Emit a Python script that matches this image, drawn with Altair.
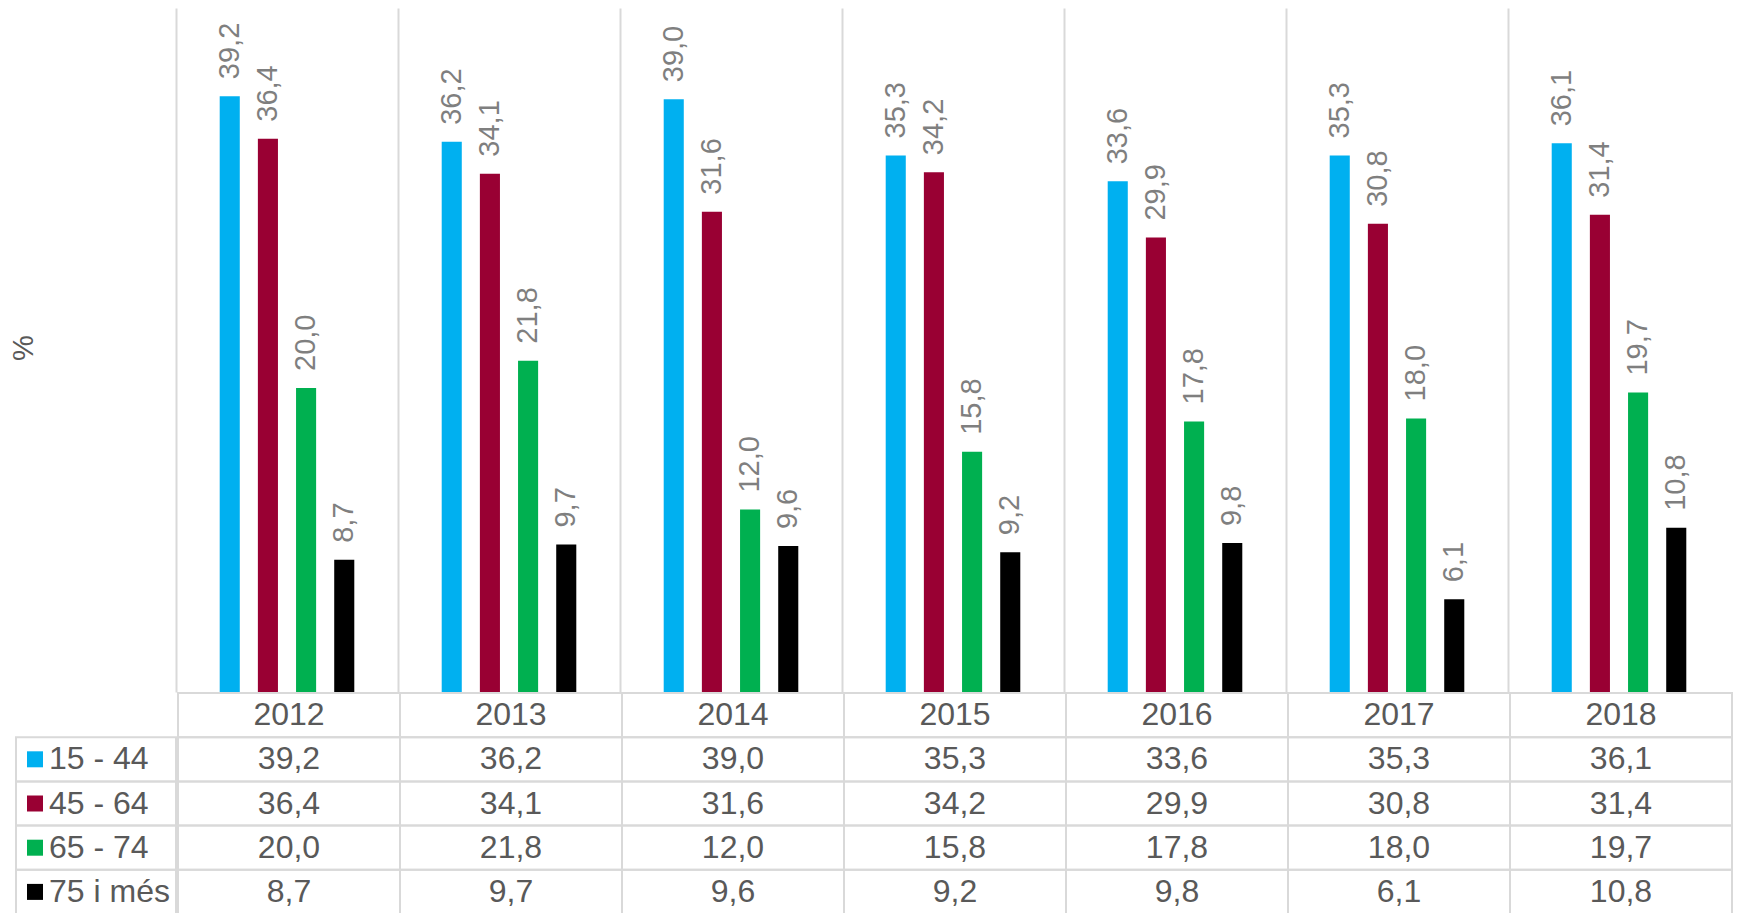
import altair as alt
import pandas as pd

# ---- data ----
years = ["2012", "2013", "2014", "2015", "2016", "2017", "2018"]
series = ["15 - 44", "45 - 64", "65 - 74", "75 i més"]
v_15_44 = [39.2, 36.2, 39.0, 35.3, 33.6, 35.3, 36.1]
v_45_64 = [36.4, 34.1, 31.6, 34.2, 29.9, 30.8, 31.4]
v_65_74 = [20.0, 21.8, 12.0, 15.8, 17.8, 18.0, 19.7]
v_75_mes = [8.7, 9.7, 9.6, 9.2, 9.8, 6.1, 10.8]
colors = ["#00B0F0", "#990033", "#00B050", "#000000"]
y_title = "%"

FONT = "Liberation Sans"
GRID = "#d9d9d9"
LABEL_GREY = "#7f7f7f"
TEXT_GREY = "#595959"

def fmt(v):
    return f"{v:.1f}".replace(".", ",")

values_by_series = [v_15_44, v_45_64, v_65_74, v_75_mes]
records = []
for s, vals in zip(series, values_by_series):
    for y, v in zip(years, vals):
        records.append({"year": y, "series": s, "value": v, "label": fmt(v)})
df = pd.DataFrame(records)

header_key = "any"
row_domain = [header_key] + series
table_records = [{"year": y, "row": header_key, "text": y} for y in years]
table_records += [{"year": r["year"], "row": r["series"], "text": r["label"]} for r in records]
table_df = pd.DataFrame(table_records)
legend_df = pd.DataFrame({"row": series, "series": series})

COL_W = 222
W_RIGHT = COL_W * len(years)
W_LEFT = 160
H_TOP = 684
H_TABLE = 221

# empty slots on both sides of each group give the outer margin inside a column
offset_domain = ["_l"] + series + ["_r"]

x_enc = alt.X(
    "year:N",
    sort=years,
    scale=alt.Scale(paddingInner=0, paddingOuter=0),
    axis=alt.Axis(
        grid=True, bandPosition=0, labels=False, ticks=False, domain=False,
        title=None, gridColor=GRID, gridWidth=2,
    ),
)
xoff_enc = alt.XOffset(
    "series:N",
    scale=alt.Scale(domain=offset_domain, paddingInner=0.474, paddingOuter=0.145),
)
y_enc = alt.Y("value:Q", scale=alt.Scale(domain=[0, 45]), axis=None)
color_enc = alt.Color(
    "series:N", scale=alt.Scale(domain=series, range=colors), legend=None
)

bars = alt.Chart(df).mark_bar().encode(
    x=x_enc, xOffset=xoff_enc, y=y_enc, color=color_enc
)
bar_labels = alt.Chart(df).mark_text(
    angle=270, align="left", baseline="middle", dx=17,
    fontSize=29, font=FONT, color=LABEL_GREY,
).encode(x=x_enc, xOffset=xoff_enc, y=y_enc, text="label:N")

right_top = alt.layer(bars, bar_labels).properties(width=W_RIGHT, height=H_TOP)

left_top = alt.Chart(pd.DataFrame({"t": [y_title]})).mark_text(
    angle=270, align="center", baseline="middle",
    fontSize=29, font=FONT, color=TEXT_GREY,
).encode(text="t:N", x=alt.value(8), y=alt.value(340)).properties(
    width=W_LEFT, height=H_TOP
)

row_y = alt.Y(
    "row:N", sort=row_domain,
    scale=alt.Scale(domain=row_domain, paddingInner=0, paddingOuter=0),
    axis=None,
)
tx = alt.X(
    "year:N", sort=years,
    scale=alt.Scale(paddingInner=0, paddingOuter=0), axis=None,
)
cells = alt.Chart(table_df).mark_rect(
    fill="white", fillOpacity=0, stroke=GRID, strokeWidth=2
).encode(x=tx, y=row_y)
cell_text = alt.Chart(table_df).mark_text(
    fontSize=32, font=FONT, color=TEXT_GREY, baseline="middle", align="center"
).encode(x=tx, y=row_y, text="text:N")
right_bottom = alt.layer(cells, cell_text).properties(width=W_RIGHT, height=H_TABLE)

leg_cells = alt.Chart(legend_df).mark_rect(
    fill="white", fillOpacity=0, stroke=GRID, strokeWidth=2
).encode(y=row_y)
leg_squares = alt.Chart(legend_df).mark_square(size=256, opacity=1).encode(
    x=alt.value(19), y=row_y, color=color_enc
)
leg_text = alt.Chart(legend_df).mark_text(
    fontSize=32, font=FONT, color=TEXT_GREY, baseline="middle", align="left"
).encode(x=alt.value(33), y=row_y, text="row:N")
left_bottom = alt.layer(leg_cells, leg_squares, leg_text).properties(
    width=W_LEFT, height=H_TABLE
)

chart = alt.vconcat(
    alt.hconcat(left_top, right_top, spacing=0),
    alt.hconcat(left_bottom, right_bottom, spacing=0),
    spacing=0,
).properties(
    padding={"left": 2, "top": 0, "right": 0, "bottom": 0},
    background="white",
).configure_view(strokeWidth=0).configure_concat(spacing=0).resolve_scale(
    y="independent"
)

chart.save("out.html", embed_options={"renderer": "svg", "actions": False})
